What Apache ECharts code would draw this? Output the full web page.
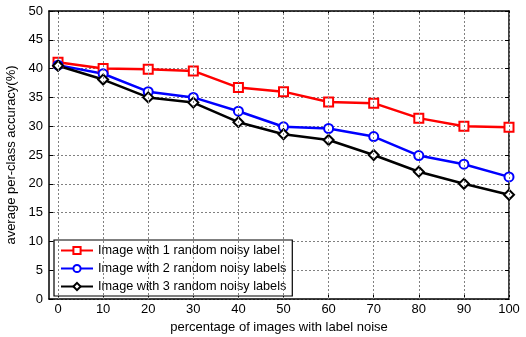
<!DOCTYPE html>
<html><head><meta charset="utf-8">
<script src="https://cdn.jsdelivr.net/npm/echarts@6/dist/echarts.min.js"></script>
<style>html,body{margin:0;padding:0;background:#fff}#c{width:526px;height:337px}</style>
</head><body><div id="c"></div>
<script>
var xValues = [0,10,20,30,40,50,60,70,80,90,100];
var xTicks = [0,10,20,30,40,50,60,70,80,90,100];
var seriesNames = ['Image with 1 random noisy label','Image with 2 random noisy labels','Image with 3 random noisy labels'];
var red = [41.1,40.0,39.9,39.6,36.7,36.0,34.2,34.0,31.4,30.0,29.8];
var blue = [40.6,39.1,36.0,35.0,32.6,29.9,29.6,28.2,24.9,23.4,21.2];
var black = [40.5,38.1,35.0,34.1,30.7,28.6,27.6,25.0,22.1,20.0,18.1];

function pairs(v){return xValues.map(function(x,i){return [x,v[i]];});}
var font = 'Arial, "Liberation Sans", sans-serif';
var grid = {left:49,right:17,top:11,bottom:38,containLabel:false,outerBoundsMode:'none'};
var chart = echarts.init(document.getElementById('c'));
var gridLine = {show:true,lineStyle:{color:'#808080',type:[2,2],width:1}};
var axLine = {show:true,onZero:false,lineStyle:{color:'#000',width:1.5}};
function mk(name,data,color,symbol,size){
  return {name:name,type:'line',data:pairs(data),color:color,symbol:symbol,symbolSize:size,
    lineStyle:{color:color,width:2.5},itemStyle:{color:color,borderColor:color,borderWidth:2},showSymbol:true,animation:false,z:3};
}
chart.setOption({
  animation:false,
  grid:grid,
  legend:{left:54,top:240,orient:'vertical',itemGap:5,itemWidth:32,itemHeight:9,padding:[4,6,3,6],
    borderColor:'#000',borderWidth:1.2,backgroundColor:'#fff',
    textStyle:{fontFamily:font,fontSize:12.7,color:'#000'},data:seriesNames},
  xAxis:[{type:'value',min:-2,max:100,position:'bottom',
    axisLine:axLine,
    axisTick:{show:true,inside:true,length:4,customValues:xTicks,lineStyle:{color:'#000'}},
    axisLabel:{customValues:xTicks,fontFamily:font,fontSize:13,color:'#000',margin:4},
    splitLine:{show:false},
    name:'percentage of images with label noise',nameLocation:'middle',nameGap:20,
    nameTextStyle:{fontFamily:font,fontSize:13,color:'#000'}},
   {type:'value',min:-2,max:100,position:'top',
    axisLine:axLine,
    axisTick:{show:true,inside:true,length:4,customValues:xTicks,lineStyle:{color:'#000'}},
    axisLabel:{show:false},splitLine:{show:false}}],
  yAxis:[{type:'value',min:0,max:50,interval:5,position:'left',
    axisLine:axLine,
    axisTick:{show:true,inside:true,length:4,lineStyle:{color:'#000'}},
    axisLabel:{fontFamily:font,fontSize:13,color:'#000',margin:6},
    splitLine:gridLine,
    name:'average per-class accuracy(%)',nameLocation:'middle',nameGap:27,nameRotate:90,
    nameTextStyle:{fontFamily:font,fontSize:13,color:'#000'}},
   {type:'value',min:0,max:50,interval:5,position:'right',
    axisLine:axLine,
    axisTick:{show:true,inside:true,length:4,lineStyle:{color:'#000'}},
    axisLabel:{show:false},splitLine:{show:false}}],
  series:[
    mk(seriesNames[0],red,'#ff0000','emptyRect',9),
    mk(seriesNames[1],blue,'#0000ff','emptyCircle',9),
    mk(seriesNames[2],black,'#000000','emptyDiamond',10),
    {type:'line',data:xTicks.map(function(x){return [x,0];}),symbol:'none',lineStyle:{opacity:0},silent:true,
     markLine:{silent:true,symbol:'none',label:{show:false},lineStyle:{color:'#808080',type:[2,2],width:1},
       data:xTicks.map(function(x){return {xAxis:x};}),animation:false},z:1}
  ]
});
</script></body></html>
